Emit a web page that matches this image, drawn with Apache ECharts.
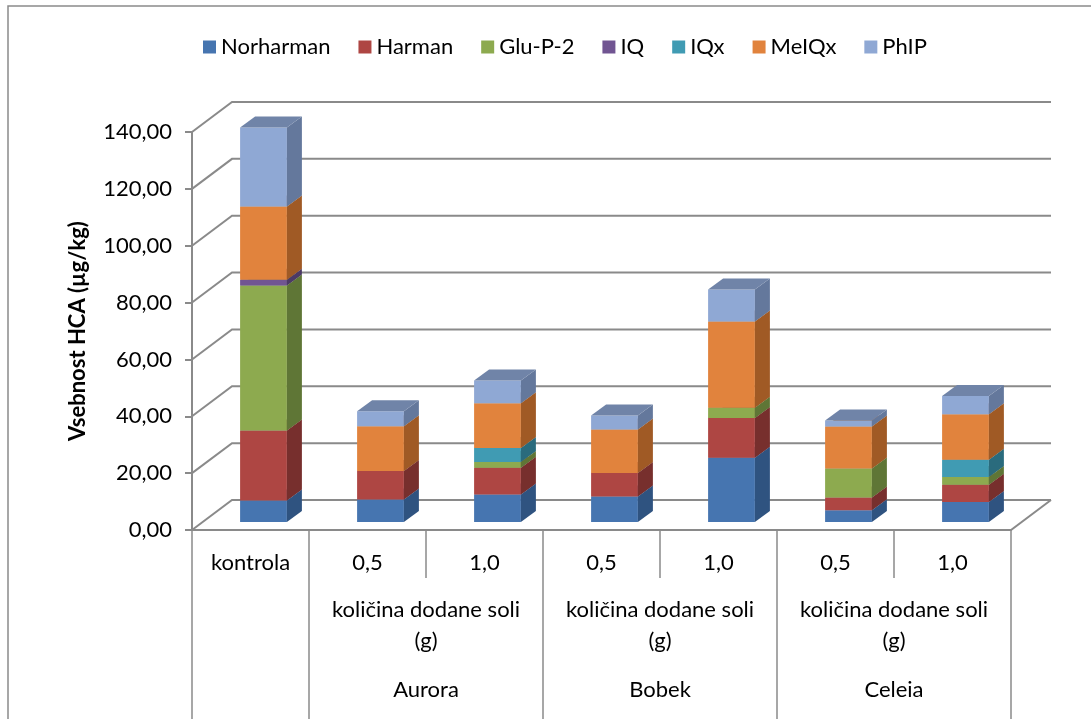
<!DOCTYPE html>
<html>
<head>
<meta charset="utf-8">
<script src="https://cdn.jsdelivr.net/npm/echarts@6/dist/echarts.min.js"></script>
<style>
  html, body { margin: 0; padding: 0; background: #ffffff; }
  #chart { width: 1091px; height: 719px; }
</style>
</head>
<body>
<div id="chart"></div>
<script>
// Categories (first level) and the two grouping levels below them
const categories = ['kontrola', '0,5', '1,0', '0,5', '1,0', '0,5', '1,0'];
const saltLevel = ['', 'količina dodane soli\n(g)', 'količina dodane soli\n(g)',
                   'količina dodane soli\n(g)', 'količina dodane soli\n(g)',
                   'količina dodane soli\n(g)', 'količina dodane soli\n(g)'];
const varieties = ['', 'Aurora', 'Aurora', 'Bobek', 'Bobek', 'Celeia', 'Celeia'];

// Value axis ticks
const yTicks = [0, 20, 40, 60, 80, 100, 120, 140];

// HCA content per compound (µg/kg), one value per category
const seriesNames = ['Norharman', 'Harman', 'Glu-P-2', 'IQ', 'IQx', 'MeIQx', 'PhIP'];
const norharman = [7.6, 7.9, 9.7, 9.0, 22.6, 4.1, 7.0];
const harman    = [24.6, 10.0, 9.4, 8.2, 14.0, 4.5, 6.1];
const gluP2     = [51.0, 0, 2.0, 0, 3.6, 10.2, 2.7];
const iq        = [2.0, 0, 0, 0, 0, 0, 0];
const iqx       = [0, 0, 4.9, 0, 0, 0, 6.1];
const meiqx     = [25.8, 15.8, 15.8, 15.3, 30.3, 14.8, 16.0];
const phip      = [27.8, 5.3, 8.0, 5.0, 11.3, 2.1, 6.4];

const seriesValues = [norharman, harman, gluP2, iq, iqx, meiqx, phip];

// Face shading for the 3D columns: front, right side, top
const faces = [
  { front: '#4675B0', side: '#2F5380', top: '#5A76A3' },
  { front: '#AE4643', side: '#772F2D', top: '#8E5452' },
  { front: '#8DAA4F', side: '#5F7636', top: '#7C8E5A' },
  { front: '#715592', side: '#4C3A66', top: '#6A5C82' },
  { front: '#409BB3', side: '#2A6B7D', top: '#5D8A97' },
  { front: '#E1833D', side: '#A05A25', top: '#B98257' },
  { front: '#8FA8D4', side: '#64789C', top: '#7084A8' }
];

const FONT = 'Lato, "Open Sans", sans-serif';
const LINE = '#8a8a8a';

// Oblique projection offsets
const WALL_DX = 40, WALL_DY = 30;        // depth of floor / side wall
const BAR_SHIFT_X = 13, BAR_SHIFT_Y = 8; // column front face inside the box
const BAR_DX = 15, BAR_DY = 11;          // column depth
const BAR_WIDTH_RATIO = 0.4;

const chart = echarts.init(document.getElementById('chart'), null, { renderer: 'canvas' });

// Stacked bases for each compound
const stackedSeries = [];
const running = categories.map(() => 0);
seriesValues.forEach((vals, s) => {
  const data = vals.map((v, i) => {
    const lo = running[i];
    const hi = lo + v;
    running[i] = hi;
    return [i, lo, hi];
  });
  stackedSeries.push({
    name: seriesNames[s],
    type: 'custom',
    clip: false,
    z: 3,
    itemStyle: { color: faces[s].front },
    encode: { x: 0, y: [1, 2] },
    data: data,
    renderItem: function (params, api) {
      const cat = api.value(0);
      const lo = api.value(1);
      const hi = api.value(2);
      if (hi - lo <= 0) return null;
      const pLo = api.coord([cat, lo]);
      const pHi = api.coord([cat, hi]);
      const bandW = api.size([1, 0])[0];
      const w = bandW * BAR_WIDTH_RATIO;
      const cx = pLo[0] + BAR_SHIFT_X;
      const x0 = cx - w / 2, x1 = cx + w / 2;
      const yb = pLo[1] - BAR_SHIFT_Y, yt = pHi[1] - BAR_SHIFT_Y;
      const f = faces[s];
      return {
        type: 'group',
        children: [
          { type: 'polygon', shape: { points: [[x0, yt], [x1, yt], [x1, yb], [x0, yb]] },
            style: { fill: f.front } },
          { type: 'polygon', shape: { points: [[x1, yt], [x1 + BAR_DX, yt - BAR_DY], [x1 + BAR_DX, yb - BAR_DY], [x1, yb]] },
            style: { fill: f.side } },
          { type: 'polygon', shape: { points: [[x0, yt], [x1, yt], [x1 + BAR_DX, yt - BAR_DY], [x0 + BAR_DX, yt - BAR_DY]] },
            style: { fill: f.top } }
        ]
      };
    }
  });
});

// Walls and floor gridlines of the 3D box
const wallSeries = {
  name: 'walls',
  type: 'custom',
  clip: false,
  silent: true,
  z: 1,
  data: yTicks.map(v => [0, v]),
  encode: { x: 0, y: 1 },
  renderItem: function (params, api) {
    const cs = params.coordSys;
    const v = api.value(1);
    const y = api.coord([0, v])[1];
    const x0 = cs.x, x1 = cs.x + cs.width;
    const style = { stroke: LINE, lineWidth: 2, fill: null };
    const children = [
      { type: 'polyline', shape: { points: [[x0, y], [x0 + WALL_DX, y - WALL_DY], [x1 + WALL_DX, y - WALL_DY]] }, style: style }
    ];
    if (v === 0) {
      children.push({ type: 'polyline', shape: { points: [[x0, y], [x1, y], [x1 + WALL_DX, y - WALL_DY]] }, style: style });
    }
    return { type: 'group', children: children };
  }
};

// Multi-level category table under the floor
const tableSeries = {
  name: 'table',
  type: 'custom',
  clip: false,
  silent: true,
  z: 2,
  data: categories.map((c, i) => [i, 0]),
  encode: { x: 0, y: 1 },
  renderItem: function (params, api) {
    const cs = params.coordSys;
    const i = api.value(0);
    const bandW = api.size([1, 0])[0];
    const cx = api.coord([i, 0])[0];
    const left = cx - bandW / 2;
    const yTop = cs.y + cs.height;
    const yBottom = api.getHeight();
    const style = { stroke: LINE, lineWidth: 1.5, fill: null };
    const groupStart = (i === 0 || varieties[i] !== varieties[i - 1]);
    const children = [];
    children.push({ type: 'line', shape: { x1: left, y1: yTop, x2: left, y2: groupStart ? yBottom : yTop + 48 }, style: style });
    if (i === categories.length - 1) {
      children.push({ type: 'line', shape: { x1: left + bandW, y1: yTop, x2: left + bandW, y2: yBottom }, style: style });
    }
    if (groupStart && varieties[i]) {
      let j = i;
      while (j + 1 < categories.length && varieties[j + 1] === varieties[i]) j++;
      const gx = (left + api.coord([j, 0])[0] + bandW / 2) / 2;
      children.push({ type: 'text', x: gx, y: yTop + 95,
        style: { text: saltLevel[i], align: 'center', verticalAlign: 'middle', font: '22px ' + FONT, lineHeight: 31, fill: '#000' } });
      children.push({ type: 'text', x: gx, y: yTop + 160,
        style: { text: varieties[i], align: 'center', verticalAlign: 'middle', font: '22px ' + FONT, fill: '#000' } });
    }
    return { type: 'group', children: children };
  }
};

const option = {
  animation: false,
  backgroundColor: '#ffffff',
  textStyle: { fontFamily: FONT },
  graphic: [
    { type: 'rect', shape: { x: 8, y: 6, width: 1200, height: 800 },
      style: { fill: null, stroke: LINE, lineWidth: 1.5 }, silent: true, z: 0 }
  ],
  legend: {
    data: seriesNames,
    left: 198,
    top: 31,
    icon: 'rect',
    itemWidth: 13,
    itemHeight: 13,
    itemGap: 28,
    textStyle: { fontFamily: FONT, fontSize: 22, color: '#000' }
  },
  grid: { left: 192, right: 80, top: 132, bottom: 189, containLabel: false },
  xAxis: {
    type: 'category',
    data: categories,
    axisLine: { show: false },
    axisTick: { show: false },
    axisLabel: { margin: 22, fontFamily: FONT, fontSize: 22, color: '#000', interval: 0 },
    splitLine: { show: false }
  },
  yAxis: {
    type: 'value',
    min: 0,
    max: 140,
    interval: 20,
    name: 'Vsebnost HCA (µg/kg)',
    nameLocation: 'middle',
    nameRotate: 90,
    nameGap: 103,
    nameTextStyle: { fontFamily: FONT, fontSize: 22, fontWeight: 'bold', color: '#000' },
    axisLine: { show: true, lineStyle: { color: LINE, width: 2 } },
    axisTick: { show: true, length: 7, lineStyle: { color: LINE, width: 2 } },
    axisLabel: {
      margin: 20, fontFamily: FONT, fontSize: 22, color: '#000',
      formatter: v => v.toFixed(2).replace('.', ',')
    },
    splitLine: { show: false }
  },
  series: [wallSeries, tableSeries].concat(stackedSeries)
};

chart.setOption(option);
</script>
</body>
</html>
